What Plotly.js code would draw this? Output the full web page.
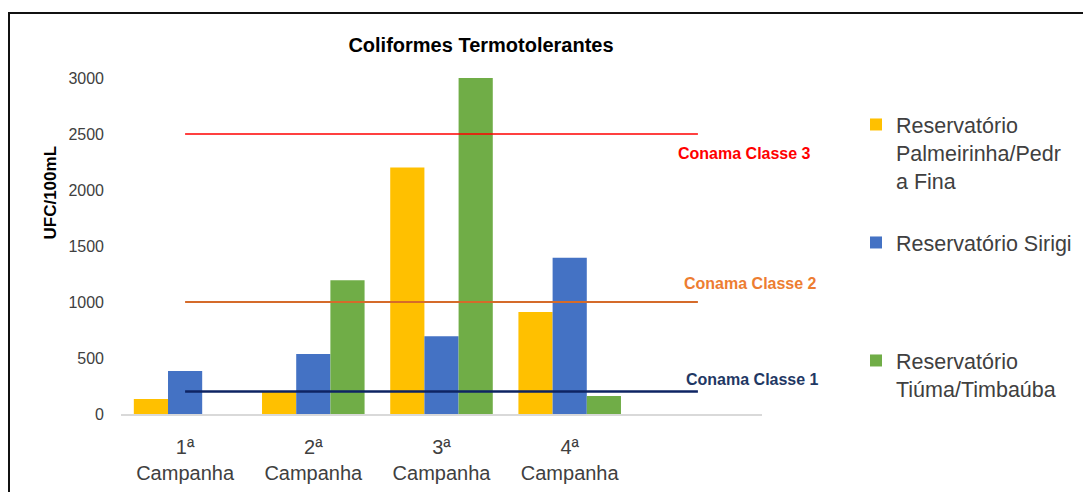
<!DOCTYPE html>
<html>
<head>
<meta charset="utf-8">
<script src="https://cdn.plot.ly/plotly-3.0.1.min.js"></script>
<style>
  html, body { margin: 0; padding: 0; background: #fff; }
  #wrap { position: relative; width: 1083px; height: 492px; overflow: hidden; }
  #chart { position: absolute; left: 0; top: 0; width: 1083px; height: 492px; }
  #frame { position: absolute; left: 8px; top: 12px; width: 1090px; height: 500px;
           border-left: 2px solid #111; border-top: 2px solid #111; pointer-events: none; }
</style>
</head>
<body>
<div id="wrap">
  <div id="chart"></div>
  <div id="frame"></div>
</div>
<script>
// ---- data ----
const categories = ["1ª<br>Campanha", "2ª<br>Campanha", "3ª<br>Campanha", "4ª<br>Campanha", " "];
const barCategories = ["1ª<br>Campanha", "2ª<br>Campanha", "3ª<br>Campanha", "4ª<br>Campanha"];
const palmeirinha = [135, 200, 2200, 910];
const sirigi = [385, 535, 695, 1395];
const tiuma = [0, 1195, 3000, 160];
const seriesNames = ["Reservatório<br>Palmeirinha/Pedr<br>a Fina", "Reservatório Sirigi", "Reservatório<br>Tiúma/Timbaúba"];
const classe3 = [2500, 2500, 2500, 2500, 2500];
const classe2 = [1000, 1000, 1000, 1000, 1000];
const classe1 = [200, 200, 200, 200, 200];
const limitNames = ["Conama Classe 3", "Conama Classe 2", "Conama Classe 1"];
const yTicks = [0, 500, 1000, 1500, 2000, 2500, 3000];
const chartTitle = "Coliformes Termotolerantes";
const yTitle = "UFC/100mL";

// ---- styling ----
const FONT = "Liberation Sans, Arial, sans-serif";
const TXT = "#404040";
const plotL = 121, plotR = 762, plotT = 78, plotB = 414, W = 1083, H = 492;
const pw = plotR - plotL, ph = plotB - plotT;
const px = v => (v - plotL) / pw;
const py = v => (plotB - v) / ph;

const traces = [
  { type: "bar", x: barCategories, y: palmeirinha, name: seriesNames[0], marker: { color: "#FFC000" }, legend: "legend" },
  { type: "bar", x: barCategories, y: sirigi, name: seriesNames[1], marker: { color: "#4472C4" }, legend: "legend2" },
  { type: "bar", x: barCategories, y: tiuma, name: seriesNames[2], marker: { color: "#70AD47" }, legend: "legend3" },
  { type: "scatter", mode: "lines", x: categories, y: classe3, name: limitNames[0], showlegend: false, line: { color: "#FF0000", width: 1.5 } },
  { type: "scatter", mode: "lines", x: categories, y: classe2, name: limitNames[1], showlegend: false, line: { color: "#D56B2A", width: 2 } },
  { type: "scatter", mode: "lines", x: categories, y: classe1, name: limitNames[2], showlegend: false, line: { color: "#0E2463", width: 2.5 } }
];

const legendBase = {
  xref: "paper", yref: "paper", xanchor: "left", yanchor: "top",
  bgcolor: "rgba(0,0,0,0)", valign: "top",
  font: { family: FONT, size: 21.5, color: TXT }, itemclick: false, itemdoubleclick: false
};
const legX = px(856);

const lastCat = categories[categories.length - 1];
const limitLabel = (txt, val, color, xs, ys) => ({
  xref: "x", yref: "y", x: lastCat, y: val, text: "<b>" + txt + "</b>", showarrow: false,
  xshift: xs, yshift: ys, font: { family: FONT, size: 16, color: color }
});

const layout = {
  width: W, height: H,
  margin: { l: plotL, r: W - plotR, t: plotT, b: H - plotB, pad: 0, autoexpand: false },
  paper_bgcolor: "#fff", plot_bgcolor: "#fff",
  barmode: "group", bargap: 0.2, bargroupgap: 0,
  title: { text: "<b>" + chartTitle + "</b>", x: 481 / W, xanchor: "center", xref: "container",
           y: 1 - 45 / H, yanchor: "middle", yref: "container",
           font: { family: FONT, size: 20, color: "#000" } },
  xaxis: {
    type: "category", categoryorder: "array", categoryarray: categories,
    range: [-0.5, 4.5], showline: true, linecolor: "#D9D9D9", linewidth: 1.5,
    ticks: "", showgrid: false, zeroline: false, ticklabelstandoff: 14,
    tickfont: { family: FONT, size: 20, color: TXT }
  },
  yaxis: {
    range: [0, 3000], tickvals: yTicks, ticktext: yTicks.map(String),
    showgrid: false, zeroline: false, showline: false, ticks: "",
    ticklabelstandoff: 16,
    tickfont: { family: FONT, size: 16, color: TXT }
  },
  legend: Object.assign({}, legendBase, { x: legX, y: py(104) }),
  legend2: Object.assign({}, legendBase, { x: legX, y: py(222) }),
  legend3: Object.assign({}, legendBase, { x: legX, y: py(340) }),
  annotations: [
    { xref: "paper", yref: "paper", x: px(38), y: py(192), text: "<b>" + yTitle + "</b>", textangle: -90,
      showarrow: false, font: { family: FONT, size: 17, color: "#000" } },
    limitLabel(limitNames[0], classe3[4], "#FF0000", 47, -19),
    limitLabel(limitNames[1], classe2[4], "#ED7D31", 53, 19),
    limitLabel(limitNames[2], classe1[4], "#1F3864", 55, 12)
  ],
  showlegend: true
};

Plotly.newPlot("chart", traces, layout, { displayModeBar: false, staticPlot: true });
</script>
</body>
</html>
